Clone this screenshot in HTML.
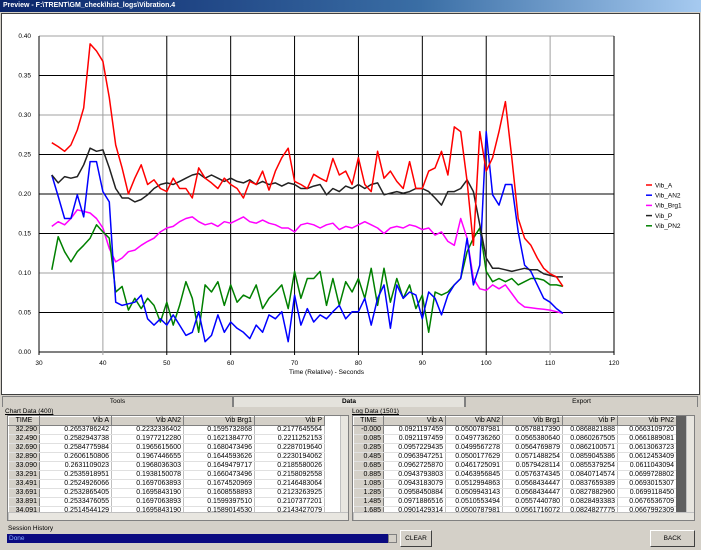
<!DOCTYPE html>
<html><head><meta charset="utf-8">
<style>
*{box-sizing:border-box;margin:0;padding:0}
body{width:701px;height:550px;background:#d4d0c8;font-family:"Liberation Sans",sans-serif;position:relative;overflow:hidden}
.abs{position:absolute}
#titlebar{left:0;top:0;width:701px;height:12px;background:linear-gradient(90deg,#0a246a 0%,#3a6ea5 60%,#a6caf0 100%);color:#fff;font-size:7px;font-weight:bold;line-height:12px;padding-left:3px}
#chartpanel{left:1px;top:13px;width:699px;height:382px;background:#fff;border:1px solid #404040}
.tab{top:396px;height:11px;font-size:6.5px;text-align:center;line-height:10px;border:1px solid #808080;border-bottom:none;background:#d4d0c8}
.grid{background:#fff;border:1px solid #808080;overflow:hidden}
table{border-collapse:collapse;font-size:7px;font-family:"Liberation Sans",sans-serif}
td,th{height:9px;padding:0 2px;text-align:right;white-space:nowrap;line-height:8px;border-right:1px solid #c0c0c0;border-bottom:1px solid #e0e0e0;font-weight:normal}
th{background:#d4d0c8;border:1px solid #fff;border-right-color:#808080;border-bottom-color:#808080}
td.t{background:#d4d0c8;border-right:1px solid #808080}
.lbl{font-size:6.5px}
.btn{background:#d4d0c8;border:1px solid;border-color:#fff #404040 #404040 #fff;font-size:6.5px;text-align:center;line-height:16px}
.vscroll{background:#e8e6e0;border-left:1px solid #c0c0c0}
</style></head><body>
<div id="titlebar" class="abs">Preview - F:\TRENT\GM_check\hist_logs\Vibration.4</div>
<div id="chartpanel" class="abs">
<svg id="chart" width="699" height="380" style="position:absolute;left:-1px;top:-13px;overflow:visible"></svg>
</div>

<div class="abs tab" style="left:2px;width:231px">Tools</div>
<div class="abs tab" style="left:233px;width:232px;background:#e4e2dc"><b>Data</b></div>
<div class="abs tab" style="left:465px;width:233px">Export</div>

<div class="abs lbl" style="left:5px;top:408px"><u>Chart Data (400)</u></div>
<div class="abs grid" style="left:7px;top:415px;width:342px;height:106px">
<table id="tblL" style="width:316px;table-layout:fixed"><colgroup><col style="width:31px"><col style="width:72px"><col style="width:72px"><col style="width:71px"><col style="width:70px"></colgroup>
<tr><th style="text-align:center">TIME</th><th>Vib A</th><th>Vib AN2</th><th>Vib Brg1</th><th>Vib P</th></tr></table>
<div class="abs vscroll" style="left:332px;top:0;width:9px;height:96px"></div>
<div class="abs vscroll" style="left:0;top:96px;width:341px;height:9px;border-top:1px solid #c0c0c0"></div>
</div>

<div class="abs lbl" style="left:352px;top:408px"><u>Log Data (1501)</u></div>
<div class="abs grid" style="left:352px;top:415px;width:343px;height:106px">
<table id="tblR" style="width:323px;table-layout:fixed"><colgroup><col style="width:30px"><col style="width:62px"><col style="width:57px"><col style="width:60px"><col style="width:55px"><col style="width:59px"></colgroup>
<tr><th style="text-align:center">TIME</th><th>Vib A</th><th>Vib AN2</th><th>Vib Brg1</th><th>Vib P</th><th>Vib PN2</th></tr></table>
<div class="abs" style="left:323px;top:0;width:10px;height:96px;background:#606060"></div>
<div class="abs vscroll" style="left:333px;top:0;width:9px;height:96px"></div>
<div class="abs vscroll" style="left:0;top:96px;width:342px;height:9px;border-top:1px solid #c0c0c0"></div>
</div>

<div class="abs lbl" style="left:8px;top:525px">Session History</div>
<div class="abs" style="left:7px;top:534px;width:390px;height:9px;background:#0a0a80;color:#8ab4ff;font-size:6.5px;line-height:9px;padding-left:2px">Done</div>
<div class="abs" style="left:388px;top:534px;width:9px;height:9px;background:#d4d0c8;border:1px solid #808080"></div>
<div class="abs btn" style="left:400px;top:530px;width:32px;height:17px">CLEAR</div>
<div class="abs btn" style="left:650px;top:530px;width:45px;height:17px">BACK</div>

<script>
const times=[];for(let t=32;t<=112;t++)times.push(t);
const vibA=[0.265,0.260,0.254,0.262,0.281,0.309,0.390,0.381,0.368,0.322,0.262,0.233,0.200,0.220,0.237,0.212,0.218,0.207,0.203,0.220,0.207,0.207,0.195,0.233,0.220,0.214,0.207,0.220,0.212,0.207,0.195,0.216,0.212,0.229,0.205,0.229,0.246,0.258,0.216,0.212,0.207,0.225,0.220,0.216,0.245,0.224,0.229,0.212,0.246,0.212,0.203,0.254,0.220,0.229,0.216,0.207,0.241,0.207,0.207,0.229,0.233,0.254,0.224,0.285,0.279,0.216,0.135,0.279,0.229,0.246,0.279,0.317,0.246,0.169,0.144,0.135,0.119,0.106,0.099,0.095,0.083];
const vibAN2=[0.224,0.197,0.169,0.169,0.199,0.171,0.241,0.241,0.203,0.190,0.063,0.059,0.061,0.063,0.072,0.042,0.034,0.042,0.034,0.047,0.034,0.021,0.025,0.051,0.013,0.021,0.047,0.025,0.038,0.030,0.025,0.017,0.034,0.025,0.047,0.042,0.051,0.013,0.072,0.034,0.055,0.038,0.047,0.042,0.051,0.059,0.042,0.051,0.051,0.068,0.034,0.068,0.085,0.030,0.085,0.068,0.076,0.072,0.042,0.076,0.068,0.047,0.072,0.085,0.093,0.144,0.085,0.110,0.279,0.199,0.186,0.212,0.212,0.152,0.110,0.102,0.085,0.068,0.063,0.055,0.049];
const vibBrg1=[0.159,0.165,0.161,0.169,0.180,0.178,0.176,0.169,0.157,0.131,0.114,0.119,0.127,0.129,0.135,0.140,0.144,0.152,0.157,0.159,0.165,0.169,0.171,0.165,0.161,0.163,0.159,0.165,0.163,0.167,0.171,0.165,0.163,0.167,0.163,0.161,0.157,0.157,0.152,0.161,0.163,0.161,0.157,0.161,0.163,0.155,0.159,0.157,0.161,0.165,0.161,0.157,0.150,0.157,0.159,0.157,0.161,0.159,0.155,0.157,0.148,0.152,0.140,0.135,0.169,0.144,0.093,0.080,0.078,0.085,0.080,0.085,0.074,0.063,0.057,0.056,0.055,0.054,0.053,0.051,0.049];
const vibP=[0.224,0.214,0.222,0.220,0.222,0.237,0.258,0.254,0.256,0.233,0.207,0.195,0.195,0.190,0.193,0.199,0.207,0.212,0.214,0.212,0.216,0.220,0.224,0.226,0.220,0.224,0.220,0.216,0.220,0.216,0.214,0.218,0.212,0.216,0.212,0.214,0.210,0.214,0.212,0.207,0.207,0.210,0.212,0.199,0.207,0.203,0.210,0.207,0.212,0.207,0.212,0.214,0.199,0.201,0.203,0.201,0.203,0.207,0.207,0.203,0.195,0.186,0.203,0.203,0.207,0.218,0.203,0.161,0.119,0.106,0.106,0.104,0.102,0.104,0.106,0.104,0.104,0.099,0.097,0.095,0.095];
const vibPN2=[0.104,0.146,0.127,0.114,0.127,0.135,0.144,0.161,0.152,0.144,0.076,0.083,0.053,0.068,0.055,0.068,0.059,0.038,0.063,0.034,0.059,0.089,0.068,0.025,0.085,0.076,0.089,0.059,0.085,0.063,0.072,0.068,0.085,0.055,0.068,0.076,0.085,0.055,0.102,0.068,0.093,0.093,0.102,0.059,0.093,0.059,0.089,0.076,0.093,0.068,0.106,0.059,0.106,0.063,0.093,0.068,0.085,0.055,0.072,0.025,0.076,0.072,0.076,0.085,0.093,0.127,0.144,0.157,0.102,0.089,0.093,0.089,0.093,0.085,0.089,0.093,0.093,0.091,0.085,0.085,0.083];
const seriesNames=["Vib_A","Vib_AN2","Vib_Brg1","Vib_P","Vib_PN2"];
const seriesColors=["#ff0000","#0000ff","#ff00ff","#222222","#008000"];
const seriesData=[vibA,vibAN2,vibBrg1,vibP,vibPN2];
const xTicks=[30,40,50,60,70,80,90,100,110,120];
const yTicks=[0,0.05,0.10,0.15,0.20,0.25,0.30,0.35,0.40];
const grayX=[40,110];const grayY=[0.10,0.30,0.40];

const NS="http://www.w3.org/2000/svg";
const svg=document.getElementById('chart');
const X0=38,X1=613,Y0=351,Y1=35;
const xs=t=>X0+(t-30)/(90)*(X1-X0);
const ys=v=>Y0-v/0.40*(Y0-Y1);
function mk(tag,attrs,parent){const e=document.createElementNS(NS,tag);for(const k in attrs)e.setAttribute(k,attrs[k]);(parent||svg).appendChild(e);return e;}
yTicks.forEach(v=>{
  const l=mk('line',{x1:X0,x2:X1,y1:ys(v),y2:ys(v),stroke:grayY.some(g=>Math.abs(g-v)<1e-9)?'#a0a0a0':'#000','stroke-width':1});
  
  
  const tx=mk('text',{x:X0-8,y:ys(v)+2,'text-anchor':'end','font-size':6.5,'font-family':'Liberation Sans, sans-serif'});
  tx.textContent=v.toFixed(2);
  
  
});
xTicks.forEach(t=>{
  const l=mk('line',{x1:xs(t),x2:xs(t),y1:Y1,y2:Y0+3,stroke:grayX.includes(t)?'#a0a0a0':'#000','stroke-width':1});
  
  
  const tx=mk('text',{x:xs(t),y:Y0+13,'text-anchor':'middle','font-size':6.5,'font-family':'Liberation Sans, sans-serif'});
  tx.textContent=t;
  
  
});
const xt=mk('text',{x:(X0+X1)/2,y:373,'text-anchor':'middle','font-size':6.5,'font-family':'Liberation Sans, sans-serif'});
xt.textContent='Time (Relative) - Seconds';


const drawOrder=[2,4,1,3,0];
drawOrder.forEach(i=>{
  const d=seriesData[i].map((v,j)=>(j?'L':'M')+xs(times[j]).toFixed(1)+','+ys(v).toFixed(1)).join('');
  const p=mk('path',{d:d,fill:'none',stroke:seriesColors[i],'stroke-width':1.5,'stroke-linejoin':'round'});
  
  
});
seriesNames.forEach((n,i)=>{
  const y=184+i*10.2;
  const l=mk('line',{x1:645,x2:651,y1:y,y2:y,stroke:seriesColors[i],'stroke-width':1.5});
  
  
  const tx=mk('text',{x:654,y:y+2.3,'font-size':6.5,'font-family':'Liberation Sans, sans-serif'});
  tx.textContent=n;
  
  
});

const leftRows=[
["32.290","0.2653786242","0.2232336402","0.1595732868","0.2177645564"],
["32.490","0.2582943738","0.1977212280","0.1621384770","0.2211252153"],
["32.690","0.2584775984","0.1965615600","0.1680473496","0.2287019640"],
["32.890","0.2606150806","0.1967446655","0.1644593626","0.2230194062"],
["33.090","0.2631109023","0.1968036303","0.1649479717","0.2185580026"],
["33.291","0.2535918951","0.1938150078","0.1660473496","0.2158092558"],
["33.491","0.2524926066","0.1697063893","0.1674520969","0.2146483064"],
["33.691","0.2532865405","0.1695843190","0.1608558893","0.2123263925"],
["33.891","0.2533476055","0.1697063893","0.1599397510","0.2107377201"],
["34.091","0.2514544129","0.1695843190","0.1589014530","0.2143427079"]];
const rightRows=[
["-0.000","0.0921197459","0.0500787981","0.0578817390","0.0868821888","0.0663109720"],
["0.085","0.0921197459","0.0497736260","0.0565380640","0.0860267505","0.0661889081"],
["0.285","0.0957229435","0.0499567278","0.0564769879","0.0862100571","0.0613063723"],
["0.485","0.0963947251","0.0500177629","0.0571488254","0.0859045386","0.0612453409"],
["0.685","0.0962725870","0.0461725091","0.0579428114","0.0855379254","0.0611043094"],
["0.885","0.0943793803","0.0463956845","0.0576374345","0.0840714574","0.0699728802"],
["1.085","0.0943183079","0.0512994863","0.0568434447","0.0837659389","0.0693015307"],
["1.285","0.0958450884","0.0509943143","0.0568434447","0.0827882960","0.0699118450"],
["1.485","0.0971886516","0.0510553494","0.0557440780","0.0828493383","0.0676536709"],
["1.685","0.0901429314","0.0500787981","0.0561716072","0.0824827775","0.0667992309"]];
function fill(id,rows,name){
  const tb=document.getElementById(id);
  rows.forEach(r=>{
    const tr=document.createElement('tr');
    
    
    r.forEach((c,k)=>{const td=document.createElement('td');td.textContent=c;if(k===0)td.className='t';tr.appendChild(td);});
    tb.appendChild(tr);
  });
}
fill('tblL',leftRows,'chart-data-row');
fill('tblR',rightRows,'log-data-row');
</script>
</body></html>
